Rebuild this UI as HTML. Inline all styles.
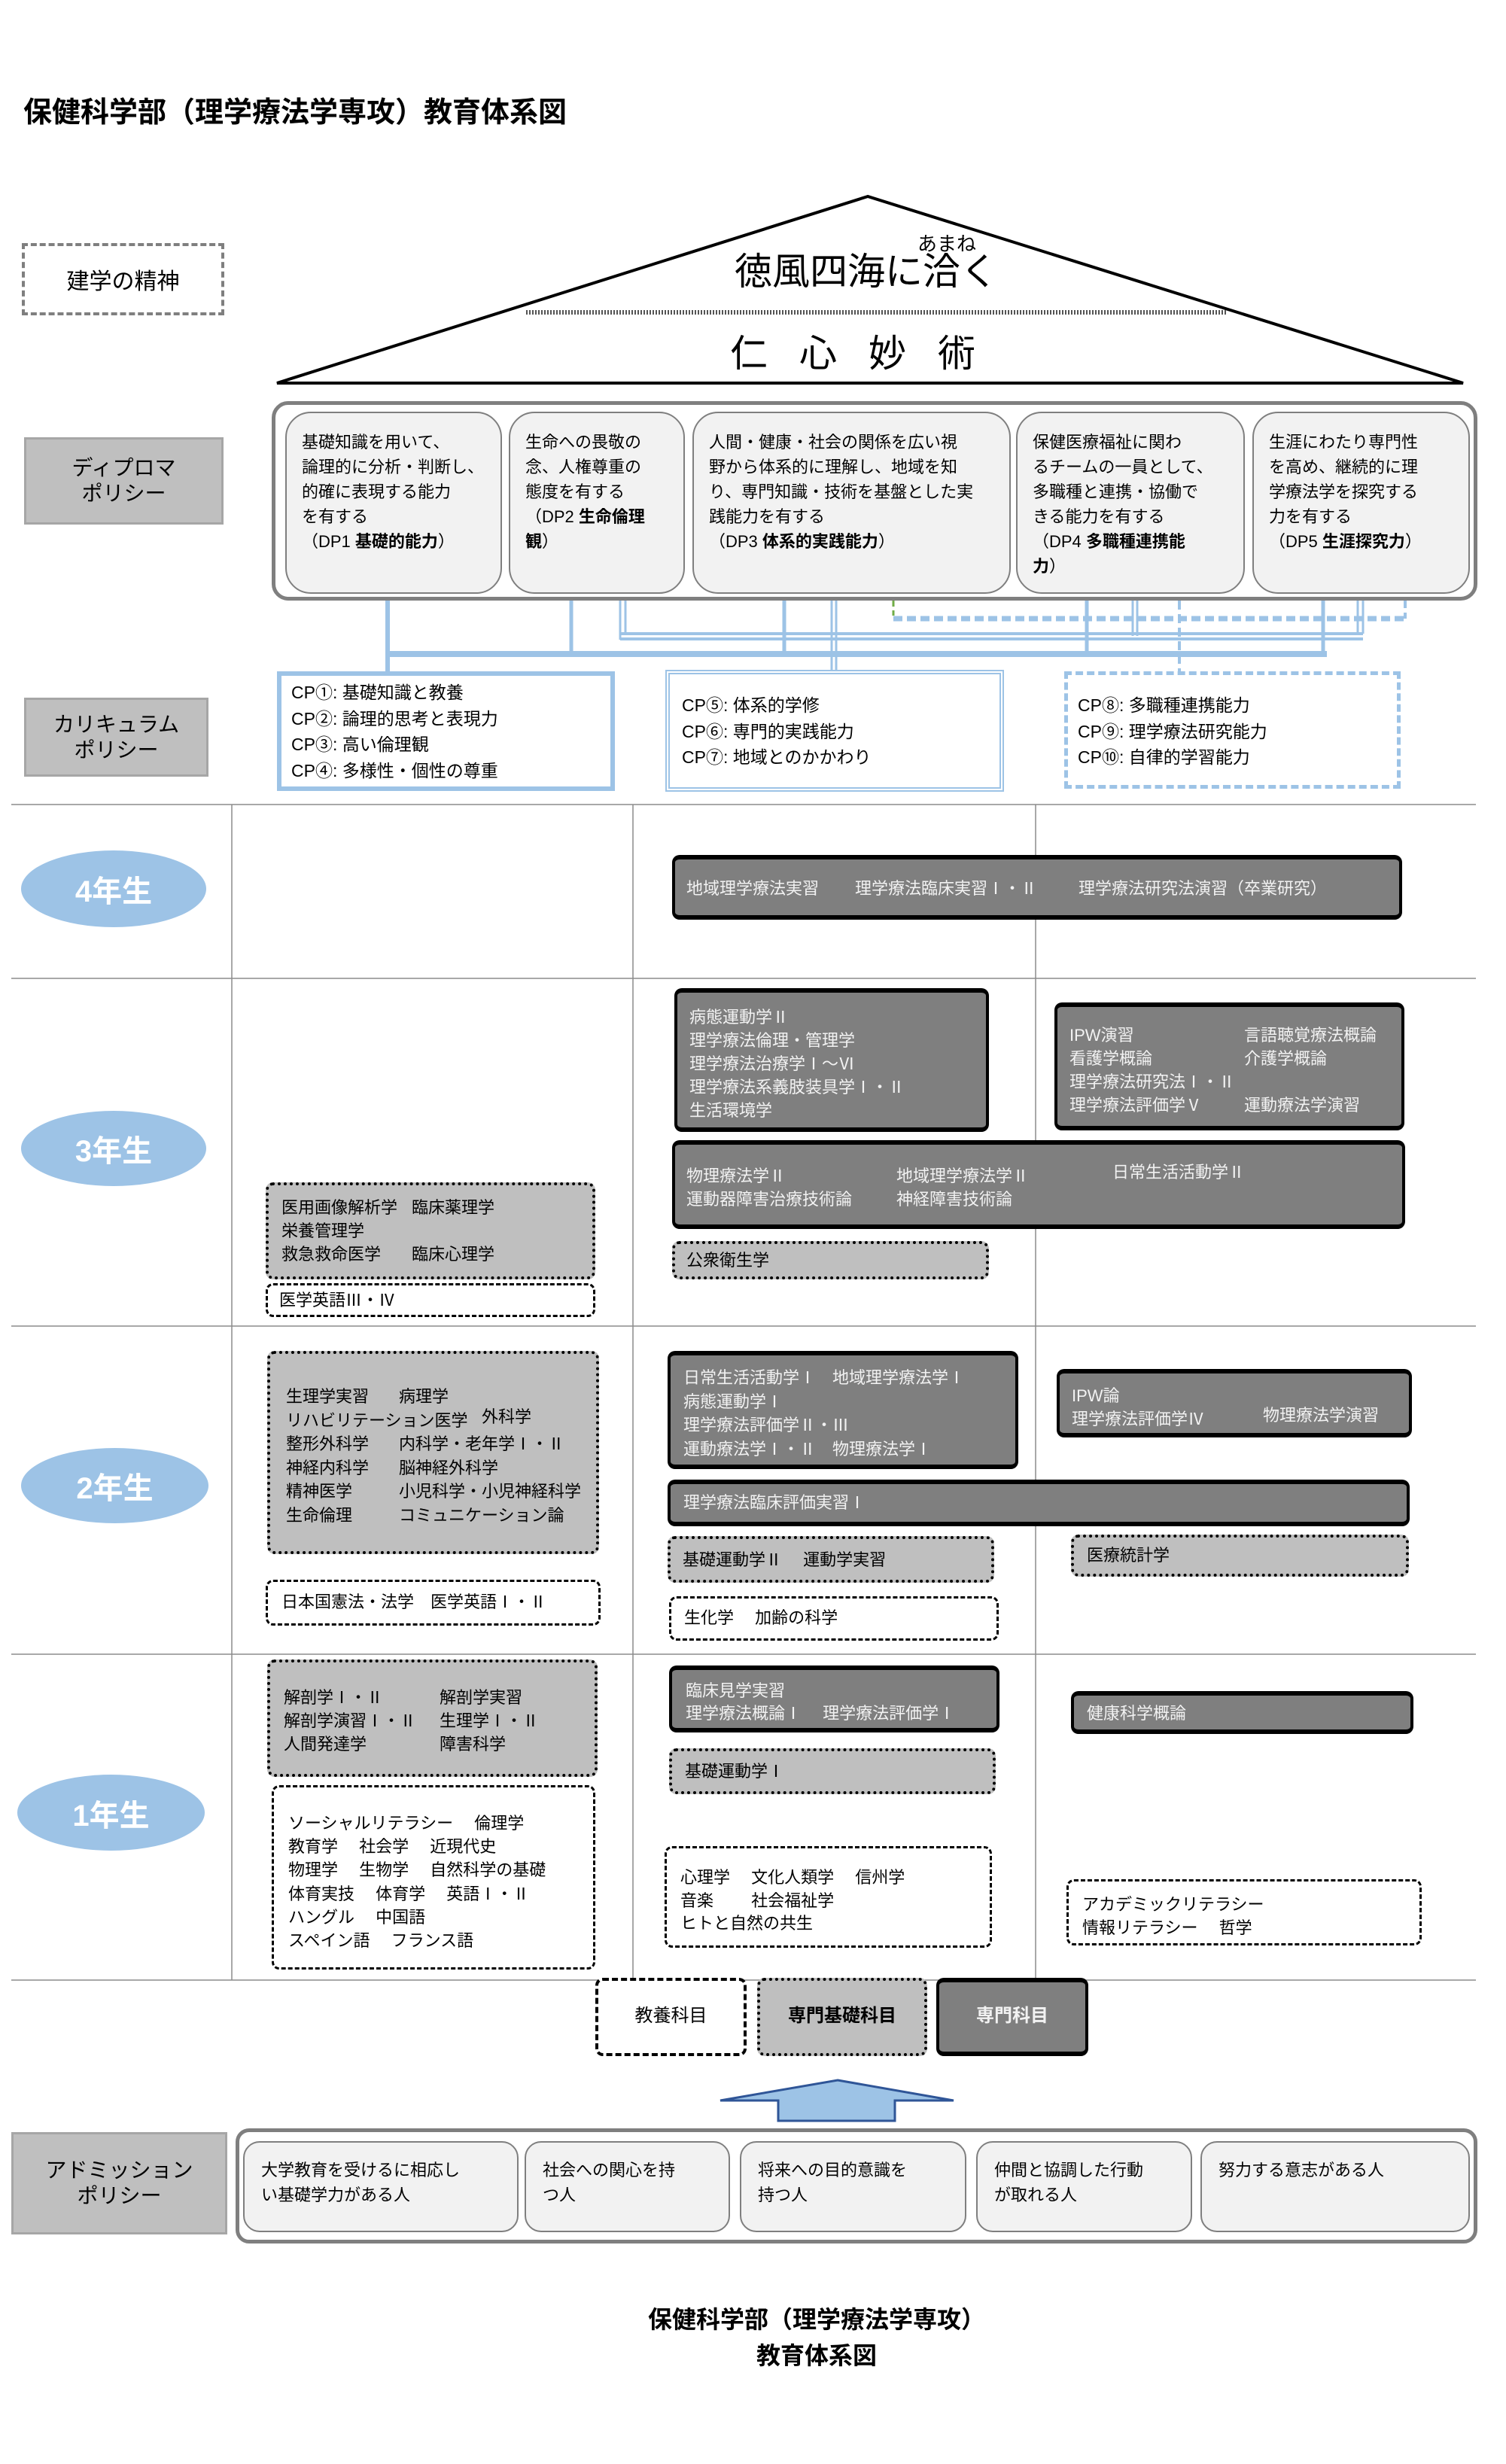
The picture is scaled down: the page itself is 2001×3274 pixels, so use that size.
<!DOCTYPE html>
<html><head><meta charset="utf-8">
<style>
*{margin:0;padding:0;box-sizing:border-box}
body{width:2001px;height:3274px;background:#fff;position:relative;overflow:hidden;font-family:"Liberation Sans","Noto Sans CJK JP",sans-serif;color:#000}
.a{position:absolute}
.t{position:absolute;white-space:pre;font-size:22px;line-height:22px}
.dark{position:absolute;background:#7f7f7f;border:4px solid #000;border-bottom-width:6px;border-top-width:6px;border-radius:10px}
.lite{position:absolute;background:#bfbfbf;border:4px dotted #000;border-radius:10px}
.dash{position:absolute;background:#fff;border:3px dashed #000;border-radius:10px}
.w{color:#f2f2f2}
.lab{position:absolute;background:#bfbfbf;border:3px solid #a6a6a6;font-size:28px;line-height:34px;text-align:center;display:flex;align-items:center;justify-content:center}
.yr{position:absolute;background:#9dc3e6;border-radius:50%;color:#fff;font-weight:bold;font-size:40px;display:flex;align-items:center;justify-content:center}
.dp{position:absolute;background:#f2f2f2;border:2px solid #7f7f7f;border-radius:34px;top:547px;height:242px;font-size:22px;line-height:33px;padding:22px 0 0 20px;white-space:pre}
.ap{position:absolute;background:#f2f2f2;border:2px solid #7f7f7f;border-radius:22px;top:2845px;height:121px;font-size:22px;line-height:33px;padding:20px 0 0 22px;white-space:pre}
.cp{font-size:23px;line-height:34.5px;white-space:pre;position:absolute}
</style></head><body>

<div class="a" style="left:31px;top:118px;font-size:38px;font-weight:bold;white-space:pre">保健科学部（理学療法学専攻）教育体系図</div>

<div class="a" style="left:29px;top:323px;width:269px;height:96px;border:4px dashed #7f7f7f;display:flex;align-items:center;justify-content:center;font-size:30px">建学の精神</div>

<svg class="a" style="left:0;top:0" width="2001" height="1100">
<polygon points="1153,261 368,509 1944,509" fill="#fff" stroke="#000" stroke-width="4"/>
<line x1="699" y1="415" x2="1631" y2="415" stroke="#555" stroke-width="6" stroke-dasharray="2,2"/>
<g stroke="#9dc3e6" fill="none">
<line x1="515" y1="798" x2="515" y2="893" stroke-width="6"/>
<line x1="515" y1="869" x2="1763" y2="869" stroke-width="8"/>
<line x1="759" y1="798" x2="759" y2="869" stroke-width="5"/>
<line x1="1042" y1="798" x2="1042" y2="869" stroke-width="5"/>
<line x1="1444" y1="798" x2="1444" y2="869" stroke-width="5"/>
<line x1="1758" y1="798" x2="1758" y2="869" stroke-width="5"/>
<line x1="824" y1="798" x2="824" y2="850" stroke-width="3"/>
<line x1="831" y1="798" x2="831" y2="842" stroke-width="3"/>
<line x1="824" y1="842" x2="1811" y2="842" stroke-width="4"/>
<line x1="824" y1="849" x2="1811" y2="849" stroke-width="4"/>
<line x1="1804" y1="798" x2="1804" y2="842" stroke-width="3"/>
<line x1="1811" y1="798" x2="1811" y2="842" stroke-width="3"/>
<line x1="1505" y1="798" x2="1505" y2="845" stroke-width="3"/>
<line x1="1511" y1="798" x2="1511" y2="845" stroke-width="3"/>
<line x1="1105" y1="798" x2="1105" y2="890" stroke-width="3"/>
<line x1="1111" y1="798" x2="1111" y2="890" stroke-width="3"/>
<line x1="1187" y1="822" x2="1867" y2="822" stroke-width="7" stroke-dasharray="12,6"/>
<line x1="1867" y1="798" x2="1867" y2="822" stroke-width="4" stroke-dasharray="10,6"/>
<line x1="1567" y1="798" x2="1567" y2="893" stroke-width="4" stroke-dasharray="12,6"/>
</g>
<line x1="1187" y1="798" x2="1187" y2="818" stroke="#70ad47" stroke-width="3" stroke-dasharray="8,5"/>
</svg>

<div class="a" style="left:1219px;top:304px;font-size:26px">あまね</div>
<div class="a" style="left:976px;top:333px;font-size:50px;line-height:56px;white-space:pre">徳風四海に洽く</div>
<div class="a" style="left:970px;top:442px;font-size:50px;line-height:56px;white-space:pre;letter-spacing:42px">仁心妙術</div>

<div class="a" style="left:361px;top:533px;width:1602px;height:265px;border:5px solid #7f7f7f;border-radius:22px;background:#fff"></div>
<div class="dp" style="left:379px;width:288px">基礎知識を用いて、
論理的に分析・判断し、
的確に表現する能力
を有する
（DP1 <b>基礎的能力</b>）</div>
<div class="dp" style="left:676px;width:234px">生命への畏敬の
念、人権尊重の
態度を有する
（DP2 <b>生命倫理</b>
<b>観</b>）</div>
<div class="dp" style="left:920px;width:423px">人間・健康・社会の関係を広い視
野から体系的に理解し、地域を知
り、専門知識・技術を基盤とした実
践能力を有する
（DP3 <b>体系的実践能力</b>）</div>
<div class="dp" style="left:1350px;width:304px">保健医療福祉に関わ
るチームの一員として、
多職種と連携・協働で
きる能力を有する
（DP4 <b>多職種連携能</b>
<b>力</b>）</div>
<div class="dp" style="left:1664px;width:289px">生涯にわたり専門性
を高め、継続的に理
学療法学を探究する
力を有する
（DP5 <b>生涯探究力</b>）</div>

<div class="lab" style="left:32px;top:581px;width:265px;height:116px">ディプロマ<br>ポリシー</div>
<div class="lab" style="left:32px;top:927px;width:245px;height:105px">カリキュラム<br>ポリシー</div>

<div class="a" style="left:368px;top:892px;width:449px;height:159px;border:6px solid #9dc3e6"></div>
<div class="cp" style="left:387px;top:903px">CP①: 基礎知識と教養
CP②: 論理的思考と表現力
CP③: 高い倫理観
CP④: 多様性・個性の尊重</div>
<div class="a" style="left:884px;top:890px;width:450px;height:162px;border:6px double #9dc3e6"></div>
<div class="cp" style="left:906px;top:920px">CP⑤: 体系的学修
CP⑥: 専門的実践能力
CP⑦: 地域とのかかわり</div>
<div class="a" style="left:1414px;top:892px;width:447px;height:156px;border:5px dashed #9dc3e6"></div>
<div class="cp" style="left:1432px;top:920px">CP⑧: 多職種連携能力
CP⑨: 理学療法研究能力
CP⑩: 自律的学習能力</div>

<svg class="a" style="left:0;top:0" width="2001" height="2700">
<g stroke="#8c8c8c" stroke-width="1.5">
<line x1="15" y1="1069" x2="1961" y2="1069"/>
<line x1="15" y1="1300" x2="1961" y2="1300"/>
<line x1="15" y1="1762" x2="1961" y2="1762"/>
<line x1="15" y1="2198" x2="1961" y2="2198"/>
<line x1="15" y1="2631" x2="1961" y2="2631"/>
<line x1="308" y1="1069" x2="308" y2="2631"/>
<line x1="841" y1="1069" x2="841" y2="2631"/>
<line x1="1376" y1="1069" x2="1376" y2="2631"/>
</g></svg>

<div class="yr" style="left:28px;top:1130px;width:246px;height:102px">4年生</div>
<div class="yr" style="left:28px;top:1476px;width:246px;height:100px">3年生</div>
<div class="yr" style="left:28px;top:1924px;width:249px;height:100px">2年生</div>
<div class="yr" style="left:23px;top:2358px;width:249px;height:101px">1年生</div>

<div class="dark" style="left:893px;top:1136px;width:970px;height:86px"></div>
<div class="t w" style="left:912px;top:1170px">地域理学療法実習</div>
<div class="t w" style="left:1136px;top:1170px">理学療法臨床実習Ⅰ・Ⅱ</div>
<div class="t w" style="left:1433px;top:1170px">理学療法研究法演習（卒業研究）</div>

<div class="dark" style="left:896px;top:1313px;width:418px;height:191px"></div>
<div class="t w" style="left:916px;top:1336px;line-height:31px">病態運動学Ⅱ
理学療法倫理・管理学
理学療法治療学Ⅰ～Ⅵ
理学療法系義肢装具学Ⅰ・Ⅱ
生活環境学</div>
<div class="dark" style="left:1401px;top:1332px;width:465px;height:170px"></div>
<div class="t w" style="left:1421px;top:1360px;line-height:31px">IPW演習
看護学概論
理学療法研究法Ⅰ・Ⅱ
理学療法評価学Ⅴ</div>
<div class="t w" style="left:1653px;top:1360px;line-height:31px">言語聴覚療法概論
介護学概論

運動療法学演習</div>
<div class="dark" style="left:893px;top:1515px;width:974px;height:118px"></div>
<div class="t w" style="left:912px;top:1547px;line-height:31px">物理療法学Ⅱ
運動器障害治療技術論</div>
<div class="t w" style="left:1191px;top:1547px;line-height:31px">地域理学療法学Ⅱ
神経障害技術論</div>
<div class="t w" style="left:1478px;top:1547px">日常生活活動学Ⅱ</div>
<div class="lite" style="left:893px;top:1649px;width:421px;height:51px"></div>
<div class="t" style="left:912px;top:1664px">公衆衛生学</div>
<div class="lite" style="left:353px;top:1571px;width:438px;height:129px"></div>
<div class="t" style="left:374px;top:1589px;line-height:31px">医用画像解析学
栄養管理学
救急救命医学</div>
<div class="t" style="left:547px;top:1589px;line-height:31px">臨床薬理学

臨床心理学</div>
<div class="dash" style="left:353px;top:1705px;width:438px;height:45px"></div>
<div class="t" style="left:371px;top:1717px">医学英語Ⅲ・Ⅳ</div>

<div class="lite" style="left:355px;top:1795px;width:441px;height:270px"></div>
<div class="t" style="left:380px;top:1840px;line-height:31.5px">生理学実習
リハビリテーション医学
整形外科学
神経内科学
精神医学
生命倫理</div>
<div class="t" style="left:530px;top:1840px;line-height:31.5px">病理学

内科学・老年学Ⅰ・Ⅱ
脳神経外科学
小児科学・小児神経科学
コミュニケーション論</div>
<div class="t" style="left:640px;top:1872px">外科学</div>
<div class="dash" style="left:353px;top:2099px;width:445px;height:61px"></div>
<div class="t" style="left:374px;top:2118px">日本国憲法・法学　医学英語Ⅰ・Ⅱ</div>
<div class="dark" style="left:887px;top:1795px;width:466px;height:157px"></div>
<div class="t w" style="left:908px;top:1815px;line-height:31.5px">日常生活活動学Ⅰ　地域理学療法学Ⅰ
病態運動学Ⅰ
理学療法評価学Ⅱ・Ⅲ
運動療法学Ⅰ・Ⅱ　物理療法学Ⅰ</div>
<div class="dark" style="left:1404px;top:1819px;width:472px;height:91px"></div>
<div class="t w" style="left:1424px;top:1839px;line-height:31px">IPW論
理学療法評価学Ⅳ</div>
<div class="t w" style="left:1678px;top:1870px">物理療法学演習</div>
<div class="dark" style="left:887px;top:1966px;width:986px;height:62px"></div>
<div class="t w" style="left:908px;top:1986px">理学療法臨床評価実習Ⅰ</div>
<div class="lite" style="left:887px;top:2041px;width:434px;height:62px"></div>
<div class="t" style="left:907px;top:2062px">基礎運動学Ⅱ　 運動学実習</div>
<div class="lite" style="left:1423px;top:2039px;width:449px;height:56px"></div>
<div class="t" style="left:1444px;top:2056px">医療統計学</div>
<div class="dash" style="left:889px;top:2121px;width:438px;height:59px"></div>
<div class="t" style="left:909px;top:2139px">生化学　 加齢の科学</div>

<div class="lite" style="left:355px;top:2205px;width:439px;height:156px"></div>
<div class="t" style="left:377px;top:2240px;line-height:31px">解剖学Ⅰ・Ⅱ
解剖学演習Ⅰ・Ⅱ
人間発達学</div>
<div class="t" style="left:584px;top:2240px;line-height:31px">解剖学実習
生理学Ⅰ・Ⅱ
障害科学</div>
<div class="dash" style="left:361px;top:2372px;width:430px;height:245px"></div>
<div class="t" style="left:383px;top:2407px;line-height:31.2px">ソーシャルリテラシー　 倫理学
教育学　 社会学　 近現代史
物理学　 生物学　 自然科学の基礎
体育実技　 体育学　 英語Ⅰ・Ⅱ
ハングル　 中国語
スペイン語　 フランス語</div>
<div class="dark" style="left:889px;top:2213px;width:439px;height:89px"></div>
<div class="t w" style="left:911px;top:2232px;line-height:30px">臨床見学実習
理学療法概論Ⅰ　 理学療法評価学Ⅰ</div>
<div class="lite" style="left:889px;top:2323px;width:434px;height:61px"></div>
<div class="t" style="left:910px;top:2343px">基礎運動学Ⅰ</div>
<div class="dark" style="left:1423px;top:2247px;width:455px;height:57px"></div>
<div class="t w" style="left:1444px;top:2266px">健康科学概論</div>
<div class="dash" style="left:883px;top:2453px;width:435px;height:135px"></div>
<div class="t" style="left:904px;top:2480px;line-height:30.5px">心理学　 文化人類学　 信州学
音楽　　 社会福祉学
ヒトと自然の共生</div>
<div class="dash" style="left:1417px;top:2497px;width:472px;height:88px"></div>
<div class="t" style="left:1438px;top:2515px;line-height:31px">アカデミックリテラシー
情報リテラシー　 哲学</div>

<div class="dash" style="left:791px;top:2628px;width:201px;height:104px;border-width:4px"></div>
<div class="t" style="left:791px;top:2668px;width:201px;text-align:center;font-size:24px">教養科目</div>
<div class="lite" style="left:1006px;top:2628px;width:226px;height:104px"></div>
<div class="t" style="left:1006px;top:2668px;width:226px;text-align:center;font-size:24px;font-weight:bold">専門基礎科目</div>
<div class="dark" style="left:1244px;top:2628px;width:202px;height:104px"></div>
<div class="t w" style="left:1244px;top:2668px;width:202px;text-align:center;font-size:24px;font-weight:bold">専門科目</div>

<svg class="a" style="left:0;top:2750px" width="2001" height="80">
<polygon points="1113,14 1267,41 1189,41 1189,68 1034,68 1034,41 957,41" fill="#9dc3e6" stroke="#2f5597" stroke-width="3"/>
</svg>

<div class="lab" style="left:15px;top:2833px;width:287px;height:136px">アドミッション<br>ポリシー</div>
<div class="a" style="left:313px;top:2828px;width:1650px;height:153px;border:5px solid #7f7f7f;border-radius:18px;background:#fff"></div>
<div class="ap" style="left:323px;width:366px">大学教育を受けるに相応し
い基礎学力がある人</div>
<div class="ap" style="left:697px;width:273px">社会への関心を持
つ人</div>
<div class="ap" style="left:983px;width:301px">将来への目的意識を
持つ人</div>
<div class="ap" style="left:1297px;width:287px">仲間と協調した行動
が取れる人</div>
<div class="ap" style="left:1595px;width:358px">努力する意志がある人</div>

<div class="a" style="left:855px;top:3058px;font-size:32px;line-height:48px;font-weight:bold;text-align:center;width:460px">保健科学部（理学療法学専攻）<br>教育体系図</div>

</body></html>
